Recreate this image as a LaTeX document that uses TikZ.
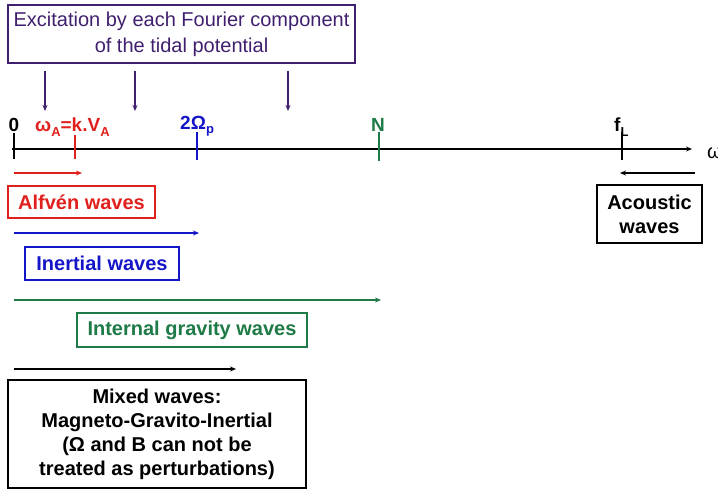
\documentclass[tikz,border=0pt]{standalone}
\usepackage{fontspec}
\setmainfont{Liberation Sans}
\usetikzlibrary{arrows.meta}
\definecolor{pur}{HTML}{40206E}
\definecolor{myred}{HTML}{E0201C}
\definecolor{myblue}{HTML}{1414C8}
\definecolor{mygreen}{HTML}{1E7A46}
\newcommand{\mysub}[1]{\raisebox{-0.45ex}{\fontsize{13}{13}\selectfont #1}}
\tikzset{
  tip/.style={-{Stealth[length=6pt,width=5pt]}},
  wbox/.style={draw, line width=1.6pt, inner sep=0pt, align=center, font=\fontsize{20}{24}\selectfont\bfseries},
  axlabel/.style={font=\fontsize{19}{20}\selectfont\bfseries, inner sep=0pt},
  tick/.style={line width=1.8pt},
}
\begin{document}
\begin{tikzpicture}[x=1pt,y=-1pt]
\useasboundingbox (0,0) rectangle (718,489);
% top box
\node[draw=pur, line width=1.5pt, minimum width=347pt, minimum height=58pt, text=pur, align=center,
      font=\fontsize{20}{26}\selectfont, inner sep=0pt] (exc) at (181.5,34) {Excitation by each Fourier component\\of the tidal potential};
\coordinate (e1) at (45,111);
\coordinate (e2) at (135,111);
\coordinate (e3) at (288,111);
\foreach \c in {e1,e2,e3}{
  \draw[pur, line width=1.6pt, tip, shorten <=7pt] (exc.south -| \c) -- (\c);
}
% axis
\coordinate (ax0) at (12,149);
\coordinate (ax1) at (692,149);
\draw[line width=1.8pt, tip] (ax0) -- (ax1);
\node[anchor=west, font=\fontsize{20}{20}\selectfont, inner sep=0pt] (om) at (707,153) {ω};
% ticks
\coordinate (o) at (14,149);
\coordinate (wa) at (75,149);
\coordinate (op) at (197,149);
\coordinate (nn) at (379,149);
\coordinate (fl) at (622,149);
\draw[tick] ([yshift=-10pt]o) -- ([yshift=16pt]o);
\draw[tick, myred] ([yshift=-10pt]wa) -- ([yshift=14pt]wa);
\draw[tick, myblue] ([yshift=-11pt]op) -- ([yshift=17pt]op);
\draw[tick, mygreen] ([yshift=-12pt]nn) -- ([yshift=17pt]nn);
\draw[tick] ([yshift=-11pt]fl) -- ([yshift=17pt]fl);
% labels
\node[axlabel] (l0) at (14,125) {0};
\node[axlabel, text=myred, anchor=west] (lwa) at (35,127) {ω\mysub{A}=k.V\mysub{A}};
\node[axlabel, text=myblue, anchor=west] (lop) at (180,126) {2Ω\mysub{p}};
\node[axlabel, text=mygreen] (ln) at (378,125) {N};
\node[axlabel, anchor=west] (lfl) at (614,127) {f\mysub{L}};
% range arrows
\coordinate (ra) at (82,173);
\coordinate (rb) at (199,233);
\coordinate (rc) at (381,300);
\coordinate (rd) at (236,369);
\coordinate (racs) at (620,173);
\coordinate (racs0) at (695,173);
\draw[myred, line width=1.4pt, tip] (o |- ra) -- (ra);
\draw[myblue, line width=1.4pt, tip] (o |- rb) -- (rb);
\draw[mygreen, line width=1.4pt, tip] (o |- rc) -- (rc);
\draw[line width=1.4pt, tip] (o |- rd) -- (rd);
\draw[line width=1.4pt, tip] (racs0) -- (racs);
% boxes
\node[wbox, draw=myred, text=myred, minimum width=147pt, minimum height=32pt] (alf) at (81.5,202) {Alfvén waves};
\node[wbox, draw=myblue, text=myblue, minimum width=154pt, minimum height=33pt] (ine) at (102,263.5) {Inertial waves};
\node[wbox, draw=mygreen, text=mygreen, minimum width=230pt, minimum height=34pt] (igw) at (192,330) {Internal gravity waves};
\node[wbox, minimum width=298pt, minimum height=108pt] (mix) at (157,434) {Mixed waves:\\Magneto-Gravito-Inertial\\(Ω and B can not be\\treated as perturbations)};
\node[wbox, minimum width=105pt, minimum height=58pt] (acs) at (649.5,214) {Acoustic\\waves};
\end{tikzpicture}
\end{document}
